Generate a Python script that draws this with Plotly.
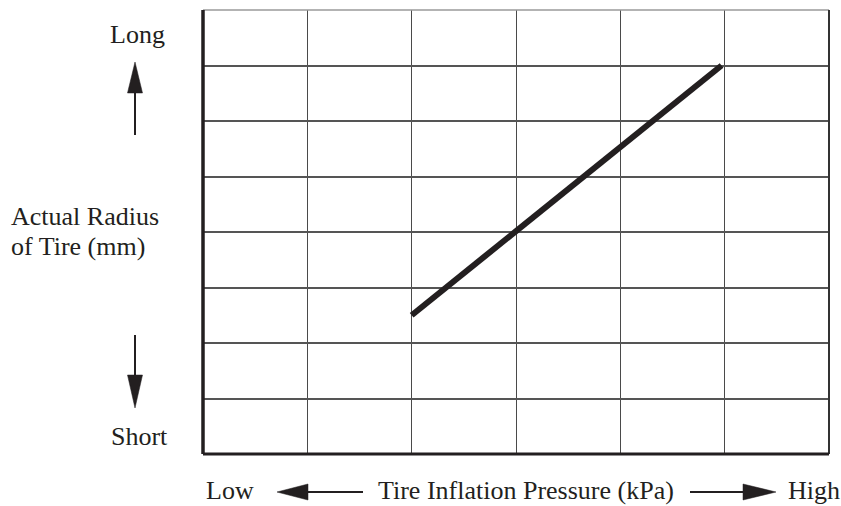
import plotly.graph_objects as go

# ---- data ----
pressure = [2.0, 4.97]      # x position (grid units, low -> high)
radius = [2.5, 7.0]         # y position (grid units, short -> long)
x_cells = 6
y_cells = 8

title_x = "Tire Inflation Pressure (kPa)"
title_y = ["Actual Radius", "of Tire (mm)"]
low_label, high_label = "Low", "High"
long_label, short_label = "Long", "Short"

W, H = 841, 506
L, R, T, B = 203, 12, 10, 52
PW, PH = W - L - R, H - T - B

def px(x):
    return (x - L) / PW

def py(y):
    return (H - B - y) / PH

FONT = dict(family="Liberation Serif, Times New Roman, serif", size=26, color="#231f20")
INK = "#231f20"

fig = go.Figure()
fig.add_trace(go.Scatter(x=pressure, y=radius, mode="lines",
                         line=dict(color=INK, width=6), hoverinfo="skip",
                         showlegend=False))

fig.update_xaxes(range=[0, x_cells], dtick=1, tick0=0, showticklabels=False,
                 ticks="", showgrid=True, gridcolor="#4a4a4a", gridwidth=1.3,
                 zeroline=False, showline=False, fixedrange=True)
fig.update_yaxes(range=[0, y_cells], dtick=1, tick0=0, showticklabels=False,
                 ticks="", showgrid=True, gridcolor="#555555", gridwidth=1.5,
                 zeroline=False, showline=False, fixedrange=True)

shapes = []
# borders
shapes.append(dict(type="line", xref="paper", yref="paper", x0=0, x1=1, y0=1, y1=1,
                   line=dict(color="#9a9a9a", width=1.5)))
shapes.append(dict(type="line", xref="paper", yref="paper", x0=1, x1=1, y0=0, y1=1,
                   line=dict(color="#333333", width=2)))
shapes.append(dict(type="line", xref="paper", yref="paper", x0=0, x1=1, y0=0, y1=0,
                   line=dict(color=INK, width=3)))
shapes.append(dict(type="line", xref="paper", yref="paper", x0=0, x1=0, y0=0, y1=1,
                   line=dict(color=INK, width=3.5)))

def shaft(x0, y0, x1, y1):
    shapes.append(dict(type="line", xref="paper", yref="paper",
                       x0=px(x0), y0=py(y0), x1=px(x1), y1=py(y1),
                       line=dict(color=INK, width=2)))

def head(pts):
    d = "M " + " L ".join(f"{px(a)},{py(b)}" for a, b in pts) + " Z"
    shapes.append(dict(type="path", xref="paper", yref="paper", path=d,
                       fillcolor=INK, line=dict(color=INK, width=0.5)))

# up arrow
shaft(135, 135, 135, 90)
head([(135, 62), (127.5, 93), (142.5, 93)])
# down arrow
shaft(135, 335, 135, 378)
head([(135, 408), (127.5, 375), (142.5, 375)])
# left arrow
shaft(363, 492, 305, 492)
head([(277, 492), (308, 484), (308, 500)])
# right arrow
shaft(690, 492, 746, 492)
head([(776, 492), (743, 484), (743, 500)])

anns = []
def txt(text, x, y, xanchor):
    anns.append(dict(text=text, x=px(x), y=py(y), xref="paper", yref="paper",
                     xanchor=xanchor, yanchor="middle", showarrow=False,
                     borderpad=0, font=FONT))

txt(long_label, 137, 34, "center")
txt(short_label, 139, 436, "center")
txt(title_y[0], 10, 216, "left")
txt(title_y[1], 10, 246, "left")
txt(low_label, 205, 490, "left")
txt(title_x, 526, 490, "center")
txt(high_label, 787, 490, "left")

fig.update_layout(width=W, height=H, margin=dict(l=L, r=R, t=T, b=B),
                  paper_bgcolor="white", plot_bgcolor="white",
                  shapes=shapes, annotations=anns, showlegend=False)

fig.write_html("out.html", config={"displayModeBar": False},
               post_script="document.body.style.margin='0px';document.body.style.overflow='hidden';")
